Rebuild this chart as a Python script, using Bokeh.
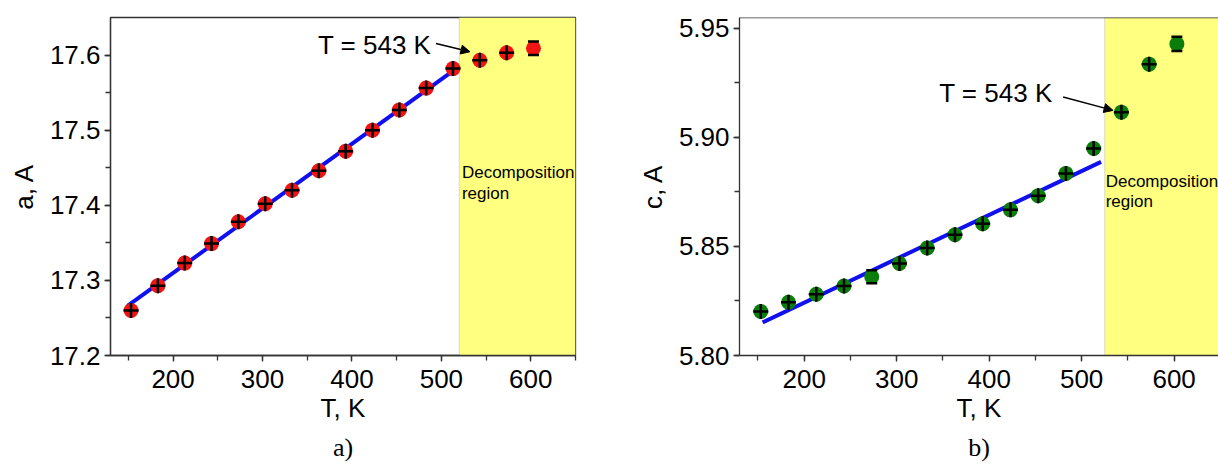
from bokeh.plotting import figure
from bokeh.layouts import row
from bokeh.models import (Range1d, SingleIntervalTicker, NumeralTickFormatter, BoxAnnotation,
                          Label, Arrow, NormalHead, Title, Span)
from bokeh.embed import file_html
from bokeh.resources import INLINE

# ---------------- data ----------------
T = [153, 183, 213, 243, 273, 303, 333, 363, 393, 423, 453, 483, 513, 543, 573, 603]
a_val = [17.260, 17.293, 17.323, 17.349, 17.378, 17.402, 17.420, 17.446,
         17.472, 17.500, 17.527, 17.556, 17.582, 17.593, 17.603, 17.609]
c_val = [5.8202, 5.8244, 5.8281, 5.8319, 5.8361, 5.8422, 5.8493, 5.8554,
         5.8604, 5.8668, 5.8733, 5.8835, 5.8949, 5.9116, 5.9336, 5.9429]
# points drawn with capped vertical error bars (index, half error)
a_cap_idx = [15]
a_cap_err = [0.009]
c_cap_idx = [4, 15]
c_cap_err = [0.003, 0.0033]
# linear fits (end points)
a_fit_T = [149, 520]
a_fit = [17.266, 17.585]
c_fit_T = [155, 521]
c_fit = [5.8152, 5.8888]
# decomposition region start
a_decomp = 520
c_decomp = 525
annot_T = 543

FONT = "Liberation Sans"
AXC = "#333333"


def style_axis(ax, standoff, fs="26px"):
    ax.axis_line_color = AXC
    ax.axis_line_width = 1.3
    ax.major_tick_line_color = AXC
    ax.minor_tick_line_color = AXC
    ax.major_tick_line_width = 1.3
    ax.minor_tick_line_width = 1.3
    ax.major_tick_in = 0
    ax.major_tick_out = 6
    ax.minor_tick_in = 0
    ax.minor_tick_out = 5
    ax.major_label_text_font = FONT
    ax.major_label_text_font_size = fs
    ax.major_label_text_color = "black"
    ax.major_label_standoff = standoff
    ax.axis_label_text_font = FONT
    ax.axis_label_text_font_size = fs
    ax.axis_label_text_font_style = "normal"
    ax.axis_label_text_color = "black"


def panel(width, border_left, border_right, xr, yr, y_int, y_fmt, vals, color,
          cap_idx, cap_err, fit_T, fit_v, decomp, ylab, caption,
          txt_xy, arr_start, arr_end, dec_xy, dec_dy, outline):
    p = figure(width=width, height=466, output_backend="svg", toolbar_location=None,
               x_range=Range1d(*xr), y_range=Range1d(*yr),
               min_border_left=border_left, min_border_right=border_right,
               min_border_top=17, min_border_bottom=0)
    p.background_fill_color = "white"
    p.border_fill_color = "white"
    p.grid.visible = False
    if outline:
        p.outline_line_color = AXC
        p.outline_line_width = 1.3
    else:
        p.outline_line_color = None
        p.add_layout(Span(location=yr[1], dimension="width", line_color=AXC, line_width=1.3))

    xax = p.below[0]
    yax = p.left[0]
    xax.ticker = SingleIntervalTicker(interval=100, num_minor_ticks=2)
    yax.ticker = SingleIntervalTicker(interval=y_int, num_minor_ticks=2)
    yax.formatter = NumeralTickFormatter(format=y_fmt)
    style_axis(xax, 8)
    style_axis(yax, 4)
    xax.axis_label = "T, K"
    xax.axis_label_standoff = 2
    yax.axis_label = ylab
    yax.axis_label_standoff = 8

    p.add_layout(BoxAnnotation(left=decomp, right=xr[1], fill_color="#ffff80", fill_alpha=1,
                               line_color="#8a8a8a", line_width=1, level="underlay"))

    # fit line
    p.line(fit_T, fit_v, line_color="#1010ee", line_width=4)

    # capped error bars (body behind the point)
    cx = [T[i] for i in cap_idx]
    lo = [vals[i] - e for i, e in zip(cap_idx, cap_err)]
    hi = [vals[i] + e for i, e in zip(cap_idx, cap_err)]
    p.segment(cx, lo, cx, hi, line_color="black", line_width=2)

    p.scatter(T, vals, size=15, fill_color=color, line_color=None)

    xs = [t for i, t in enumerate(T) if i not in cap_idx]
    ys = [v for i, v in enumerate(vals) if i not in cap_idx]
    p.scatter(xs, ys, marker="cross", size=15, line_color="black", line_width=2.5)
    p.scatter(cx + cx, lo + hi, marker="dash", size=11, line_color="black", line_width=2.5)

    p.add_layout(Label(x=txt_xy[0], y=txt_xy[1], text=f"T = {annot_T} K", text_font=FONT,
                       text_font_size="26px", text_baseline="middle", text_align="left",
                       text_color="black"))
    p.add_layout(Arrow(x_start=arr_start[0], y_start=arr_start[1], x_end=arr_end[0], y_end=arr_end[1],
                       line_width=1.5, line_color="black",
                       end=NormalHead(size=9, fill_color="black", line_color="black")))
    p.add_layout(Label(x=dec_xy[0], y=dec_xy[1], text="Decomposition", text_font=FONT,
                       text_font_size="17px", text_baseline="middle", text_align="left",
                       text_color="black"))
    p.add_layout(Label(x=dec_xy[0], y=dec_xy[1] - dec_dy, text="region", text_font=FONT,
                       text_font_size="17px", text_baseline="middle", text_align="left",
                       text_color="black"))

    p.add_layout(Title(text=caption, align="center", text_font="Liberation Serif",
                       text_font_size="26px", text_font_style="normal", text_color="black",
                       standoff=10), "below")
    return p


p1 = panel(600, 110, 25, (130, 650), (17.2, 17.65), 0.1, "0.0", a_val, "#f01414",
           a_cap_idx, a_cap_err, a_fit_T, a_fit, a_decomp, "a, A", "a)",
           (362, 17.614), (494, 17.6155), (532, 17.6044), (523, 17.4436), 0.0276, True)
p2 = panel(618, 139, 0, (130, 648), (5.80, 5.955), 0.05, "0.00", c_val, "#0b7d0b",
           c_cap_idx, c_cap_err, c_fit_T, c_fit, c_decomp, "c, A", "b)",
           (346, 5.9204), (480, 5.9185), (534, 5.9124), (526, 5.880), 0.0094, False)

layout = row(p1, p2)
open("out.html", "w").write(file_html(layout, INLINE))
